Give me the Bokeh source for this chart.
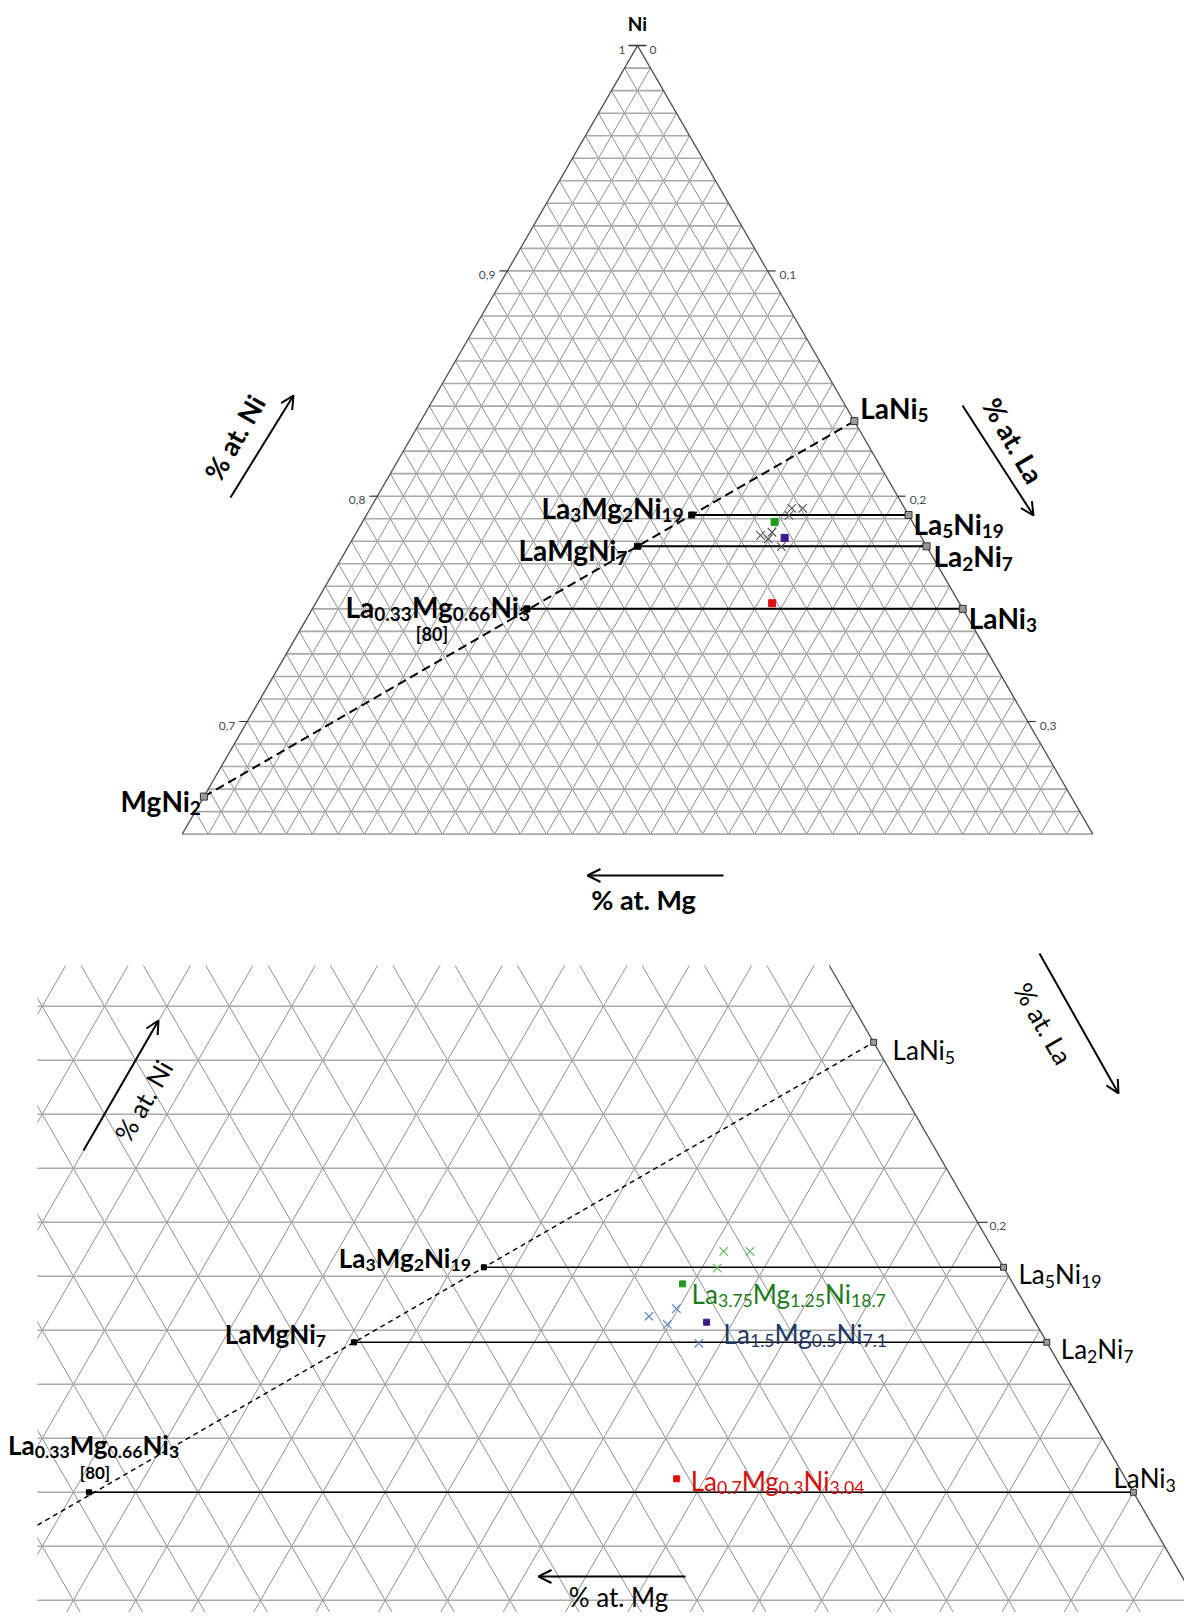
import math, re, glob, os
from bokeh.plotting import figure
from bokeh.models import Range1d, Arrow, OpenHead
from bokeh.layouts import column
from bokeh.core.properties import value
from bokeh.embed import file_html
from bokeh.resources import INLINE

H = math.sqrt(3) / 2

# ---------------- data ----------------
binary_names = ["LaNi5", "La5Ni19", "La2Ni7", "LaNi3", "MgNi2"]
binary_la = [1, 5, 2, 1, 0]
binary_mg = [0, 0, 0, 0, 1]
binary_ni = [5, 19, 7, 3, 2]

ternary_names = ["La3Mg2Ni19", "LaMgNi7", "La0.33Mg0.66Ni3"]
ternary_la = [3, 1, 0.33]
ternary_mg = [2, 1, 0.67]
ternary_ni = [19, 7, 3]

tie_from = ["La3Mg2Ni19", "LaMgNi7", "La0.33Mg0.66Ni3"]
tie_to = ["La5Ni19", "La2Ni7", "LaNi3"]
join_line = ["MgNi2", "LaNi5"]

sample_names = ["La3.75Mg1.25Ni18.7", "La1.5Mg0.5Ni7.1", "La0.7Mg0.3Ni3.04"]
sample_la = [0.1584, 0.1658, 0.1755]
sample_mg = [0.0530, 0.0527, 0.0720]
sample_ni = [0.7886, 0.7815, 0.7525]

green_x_la = [0.1620, 0.1662, 0.1625]
green_x_mg = [0.0434, 0.0392, 0.0460]
green_x_ni = [0.7947, 0.7946, 0.7916]
blue_x_la = [0.1560, 0.1597, 0.1597, 0.1665]
blue_x_mg = [0.0614, 0.0592, 0.0563, 0.0559]
blue_x_ni = [0.7826, 0.7811, 0.7840, 0.7776]

ni_ticks = [0.9, 0.8, 0.7]
la_ticks = [0.1, 0.2, 0.3]
grid_step = 0.01

# ---------------- helpers ----------------
def proj(la, mg, ni):
    s = la + mg + ni
    la, mg, ni = la / s, mg / s, ni / s
    return ((la - mg) / 2.0, ni * H)

comp = {}
for n, a, b, c in zip(binary_names, binary_la, binary_mg, binary_ni):
    comp[n] = proj(a, b, c)
for n, a, b, c in zip(ternary_names, ternary_la, ternary_mg, ternary_ni):
    comp[n] = proj(a, b, c)
samples = [proj(a, b, c) for a, b, c in zip(sample_la, sample_mg, sample_ni)]

PAGE_W = 1184


class Panel:
    def __init__(self, apex_x, ni_ref, y_ref, scale, top, bottom):
        self.ax, self.ni_ref, self.yref, self.s = apex_x, ni_ref, y_ref, scale
        self.top, self.bottom = top, bottom

    def d(self, rx, ry):
        return ((rx - self.ax) / self.s, self.ni_ref * H + (self.yref - ry) / self.s)

    def off(self, pt, dx, dy):
        return (pt[0] + dx / self.s, pt[1] - dy / self.s)


TOP = Panel(637.0, 0.7, 721.0, 2601.5, 0, 928)
BOT = Panel(353.5, 0.8, 1221.8, 6235.4, 928, 1612)

# font metrics
def find_font(pats):
    for pat in pats:
        for base in ["/usr/share/fonts", "/usr/local/share/fonts", os.path.expanduser("~/.fonts")]:
            hits = glob.glob(os.path.join(base, "**", pat), recursive=True)
            if hits:
                return hits[0]
    return None

try:
    from PIL import ImageFont
    _fr = find_font(["Lato-Regular.ttf"])
    _fb = find_font(["Lato-Bold.ttf"])
    FONT_R = ImageFont.truetype(_fr, 200) if _fr else None
    FONT_B = ImageFont.truetype(_fb, 200) if _fb else None
except Exception:
    FONT_R = FONT_B = None


def measure(t, size, bold):
    f = FONT_B if bold else FONT_R
    if f is not None:
        try:
            return f.getlength(t) * size / 200.0
        except Exception:
            pass
    return len(t) * size * (0.56 if bold else 0.52)


def parse(s):
    parts = []
    for el, num in re.findall(r"([A-Z][a-z]?)([0-9.]*)", s):
        parts.append((el, False))
        if num:
            parts.append((num, True))
    return parts


FONT = value("Lato")
SUB_RATIO = 0.68
SUB_DROP = 0.26


def formula(p, P, anchor, text, size, bold, color, align="left", dx=0, dy=0, parse_it=True):
    parts = parse(text) if parse_it else [(text, False)]
    ssize = size * SUB_RATIO
    widths = [measure(t, ssize if sub else size, bold) for t, sub in parts]
    total = sum(widths)
    x = dx - (total if align == "right" else total / 2 if align == "center" else 0)
    groups = {False: ([], [], []), True: ([], [], [])}
    for (t, sub), w in zip(parts, widths):
        X, Y = P.off(anchor, x, dy + (size * SUB_DROP if sub else 0))
        g = groups[sub]
        g[0].append(X); g[1].append(Y); g[2].append(t)
        x += w
    for sub, (xs, ys, ts) in groups.items():
        if xs:
            p.text(x=xs, y=ys, text=ts, text_font=FONT,
                   text_font_style="bold" if bold else "normal",
                   text_font_size=f"{ssize if sub else size:.1f}px", text_color=color,
                   text_align="left", text_baseline="alphabetic")


def clip(seg, box):
    x0, y0, x1, y1 = seg
    xmin, xmax, ymin, ymax = box
    dx, dy = x1 - x0, y1 - y0
    t0, t1 = 0.0, 1.0
    for pp, q in ((-dx, x0 - xmin), (dx, xmax - x0), (-dy, y0 - ymin), (dy, ymax - y0)):
        if pp == 0:
            if q < 0:
                return None
        else:
            t = q / pp
            if pp < 0:
                if t > t1:
                    return None
                t0 = max(t0, t)
            else:
                if t < t0:
                    return None
                t1 = min(t1, t)
    return (x0 + t0 * dx, y0 + t0 * dy, x0 + t1 * dx, y0 + t1 * dy)


def seglist(pairs, box):
    out = ([], [], [], [])
    for a, b in pairs:
        r = clip((a[0], a[1], b[0], b[1]), box)
        if r:
            for i in range(4):
                out[i].append(r[i])
    return out


def grid_pairs(ni_lo):
    n = int(round((1 - ni_lo) / grid_step))
    hz, sl = [], []
    for k in range(n):
        c = ni_lo + k * grid_step
        hz.append((proj(0, 1 - c, c), proj(1 - c, 0, c)))
    for k in range(1, n):
        c = k * grid_step
        sl.append((proj(c, 1 - c - ni_lo, ni_lo), proj(c, 0, 1 - c)))
        sl.append((proj(1 - c - ni_lo, c, ni_lo), proj(0, c, 1 - c)))
    return hz, sl


def make_fig(P):
    x0, _ = P.d(0, 0)
    x1, _ = P.d(PAGE_W, 0)
    _, yt = P.d(0, P.top)
    _, yb = P.d(0, P.bottom)
    p = figure(width=PAGE_W, height=P.bottom - P.top, x_range=Range1d(x0, x1),
               y_range=Range1d(yb, yt), output_backend="svg", toolbar_location=None,
               min_border=0, x_axis_type=None, y_axis_type=None)
    p.outline_line_color = None
    p.background_fill_color = "white"
    p.border_fill_color = "white"
    return p, (x0 - 1, x1 + 1, yb - 1, yt + 1)


def draw_panel(p, P, box, ni_lo, top_panel):
    hz, sl = grid_pairs(ni_lo)
    s = seglist(sl, box)
    p.segment(s[0], s[1], s[2], s[3], line_color="#8e8e8e", line_width=1.0)
    s = seglist(hz, box)
    p.segment(s[0], s[1], s[2], s[3], line_color="#a9a9a9", line_width=1.6)
    edges = [(proj(1 - ni_lo, 0, ni_lo), proj(0, 0, 1))]
    if top_panel:
        edges.append((proj(0, 1 - ni_lo, ni_lo), proj(0, 0, 1)))
    s = seglist(edges, box)
    p.segment(s[0], s[1], s[2], s[3], line_color="#505050", line_width=1.3)

    lw = 2.0 if top_panel else 1.4
    s = seglist([(comp[join_line[0]], comp[join_line[1]])], box)
    p.segment(s[0], s[1], s[2], s[3], line_color="black", line_width=lw,
              line_dash="9 5" if top_panel else "5 4")
    s = seglist([(comp[a], comp[b]) for a, b in zip(tie_from, tie_to)], box)
    p.segment(s[0], s[1], s[2], s[3], line_color="black", line_width=lw)

    ms = 1.0 if top_panel else 0.85
    p.scatter([comp[n][0] for n in binary_names], [comp[n][1] for n in binary_names],
              marker="square", size=7 * ms, fill_color="#9a9a9a", line_color="#333333", line_width=1)
    p.scatter([comp[n][0] for n in ternary_names], [comp[n][1] for n in ternary_names],
              marker="square", size=6 * ms, fill_color="black", line_color="black")

    gx = [proj(a, b, c) for a, b, c in zip(green_x_la, green_x_mg, green_x_ni)]
    bx = [proj(a, b, c) for a, b, c in zip(blue_x_la, blue_x_mg, blue_x_ni)]
    gcol = "#555555" if top_panel else "#5cb85c"
    bcol = "#555555" if top_panel else "#4f81bd"
    p.scatter([q[0] for q in gx], [q[1] for q in gx], marker="x", size=12, line_color=gcol, line_width=1.1)
    p.scatter([q[0] for q in bx], [q[1] for q in bx], marker="x", size=12, line_color=bcol, line_width=1.1)

    scol = ["#1e9a1e", "#3c1a8c", "#e01010"]
    p.scatter([q[0] for q in samples], [q[1] for q in samples], marker="square",
              size=7 if top_panel else 6, fill_color=scol, line_color=scol)


def arrow(p, P, a, b, lw=2.0):
    x0, y0 = P.d(*a)
    x1, y1 = P.d(*b)
    p.add_layout(Arrow(end=OpenHead(size=13, line_width=lw, line_color="black"),
                       x_start=x0, y_start=y0, x_end=x1, y_end=y1,
                       line_width=lw, line_color="black"))


def rot_text(p, P, c, t, ang, size, bold):
    x, y = P.d(*c)
    p.text(x=[x], y=[y], text=[t], angle=math.radians(ang), text_align="center",
           text_baseline="middle", text_font=FONT, text_font_style="bold" if bold else "normal",
           text_font_size=f"{size}px", text_color="black")


def tick_fmt(v):
    return f"{v:.1f}".replace(".", ",")


# ---------------- top panel ----------------
pt, box_t = make_fig(TOP)
draw_panel(pt, TOP, box_t, 0.65, True)

TICK_COL = "#4a4a55"
apex = proj(0, 0, 1)
a0 = TOP.off(apex, -9, 0); a1 = TOP.off(apex, 9, 0)
pt.segment([a0[0]], [a0[1]], [a1[0]], [a1[1]], line_color="#333333", line_width=1.5)
formula(pt, TOP, apex, "1", 12, False, TICK_COL, "right", -12, 4, parse_it=False)
formula(pt, TOP, apex, "0", 12, False, TICK_COL, "left", 12, 4, parse_it=False)
for v in ni_ticks:
    e = proj(0, 1 - v, v)
    q = TOP.off(e, -8, 0)
    pt.segment([e[0]], [e[1]], [q[0]], [q[1]], line_color="#333333", line_width=1.2)
    formula(pt, TOP, e, tick_fmt(v), 12, False, TICK_COL, "right", -12, 4, parse_it=False)
for v in la_ticks:
    e = proj(v, 0, 1 - v)
    q = TOP.off(e, 8, 0)
    pt.segment([e[0]], [e[1]], [q[0]], [q[1]], line_color="#333333", line_width=1.2)
    formula(pt, TOP, e, tick_fmt(v), 12, False, TICK_COL, "left", 12, 4, parse_it=False)

formula(pt, TOP, apex, "Ni", 19, True, "black", "center", 0, -22)

top_labels = [
    ("LaNi5", "left", 6, -13),
    ("La5Ni19", "left", 5, 9),
    ("La2Ni7", "left", 7, 10),
    ("LaNi3", "left", 6, 9),
    ("MgNi2", "right", -3, 4),
    ("La3Mg2Ni19", "right", -8, -7),
    ("LaMgNi7", "right", -10, 4),
    ("La0.33Mg0.66Ni3", "right", 3, -2),
]
for name, al, dx, dy in top_labels:
    formula(pt, TOP, comp[name], name, 28, True, "black", al, dx, dy)
formula(pt, TOP, comp["La0.33Mg0.66Ni3"], "[80]", 18, True, "black", "center", -95, 25, parse_it=False)

arrow(pt, TOP, (230, 497), (293, 395))
rot_text(pt, TOP, (234, 437), "% at. Ni", 60, 27, True)
arrow(pt, TOP, (962, 405), (1033, 515))
rot_text(pt, TOP, (1013, 440), "% at. La", -60, 27, True)
arrow(pt, TOP, (723, 875), (587, 875))
rot_text(pt, TOP, (643, 899), "% at. Mg", 0, 27, True)

# ---------------- bottom panel ----------------
pb, box_b = make_fig(BOT)
cx, _ = BOT.d(37, 0)
_, cy = BOT.d(0, 965)
box_clip = (cx, box_b[1], box_b[2], cy)
draw_panel(pb, BOT, box_clip, 0.70, False)

e = proj(0.2, 0, 0.8)
q = BOT.off(e, 10, 0)
pb.segment([e[0]], [e[1]], [q[0]], [q[1]], line_color="#333333", line_width=1.2)
formula(pb, BOT, e, tick_fmt(0.2), 12, False, TICK_COL, "left", 12, 4, parse_it=False)

bot_labels = [
    ("LaNi5", "left", 19, 8, False),
    ("La5Ni19", "left", 15, 7, False),
    ("La2Ni7", "left", 14, 7, False),
    ("LaNi3", "left", -20, -14, False),
    ("La3Mg2Ni19", "right", -13, -9, True),
    ("LaMgNi7", "right", -28, -8, True),
    ("La0.33Mg0.66Ni3", "left", -81, -47, True),
]
for name, al, dx, dy, bold in bot_labels:
    formula(pb, BOT, comp[name], name, 26, bold, "black", al, dx, dy)
formula(pb, BOT, comp["La0.33Mg0.66Ni3"], "[80]", 17, True, "black", "center", 6, -20, parse_it=False)

sample_label_style = [("#1e7a1e", 9, 10), ("#1f3864", 17, 12), ("#d01010", 14, 2)]
for nm, pt_s, (col, dx, dy) in zip(sample_names, samples, sample_label_style):
    formula(pb, BOT, pt_s, nm, 26, False, col, "left", dx, dy)

arrow(pb, BOT, (83, 1150), (158, 1020))
rot_text(pb, BOT, (143, 1100), "% at. Ni", 60, 26, False)
arrow(pb, BOT, (1039, 953), (1118, 1093))
rot_text(pb, BOT, (1043, 1023), "% at. La", -60, 26, False)
arrow(pb, BOT, (685, 1576), (538, 1576))
rot_text(pb, BOT, (618, 1596), "% at. Mg", 0, 26, False)

layout = column(pt, pb, spacing=0)
open("out.html", "w").write(file_html(layout, INLINE))
